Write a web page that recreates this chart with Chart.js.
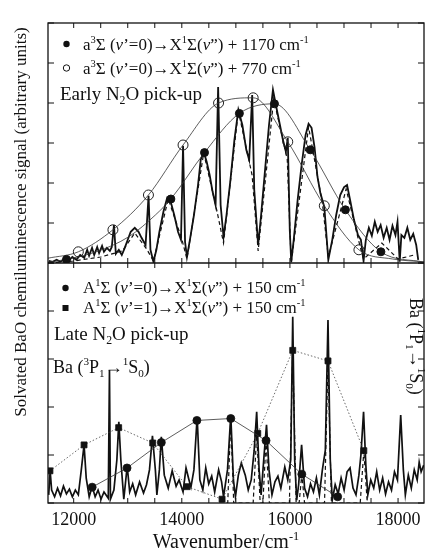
<!DOCTYPE html>
<html>
<head>
<meta charset="utf-8">
<script src="https://cdn.jsdelivr.net/npm/chart.js@4.4.0/dist/chart.umd.min.js"></script>
<style>
  html, body { margin: 0; padding: 0; background: #fff; }
  #wrap { position: relative; width: 430px; height: 551px; }
</style>
</head>
<body>
<div id="wrap"><canvas id="c" width="430" height="551"></canvas></div>
<script>
// === AXES ===
const X_MIN = 11525, X_MAX = 18480;
const xMajorTicks = [12000, 14000, 16000, 18000];
const xTickStep = 500;
const upperYTicks = [0, 1, 2, 3, 4, 5, 6];
const lowerYTicks = [0, 1, 2, 3, 4, 5];

// === EARLY N2O PICK-UP (upper panel) ===
const earlyWn = [11540,11610,11685,11755,11830,11905,11975,12050,12120,12195,
  12250,12285,12340,12380,12435,12470,12525,12560,12615,12670,
  12705,12745,12780,12835,12890,12945,13000,13055,13130,13200,
  13255,13330,13385,13420,13475,13530,13585,13660,13730,13785,
  13860,13930,13985,14023,14060,14095,14150,14225,14300,14350,
  14405,14460,14515,14570,14625,14672,14718,14772,14827,14900,
  14973,15046,15120,15193,15247,15302,15340,15412,15467,15540,
  15613,15686,15740,15815,15870,15925,15960,15997,16024,16070,
  16143,16216,16290,16345,16400,16455,16510,16563,16636,16710,
  16783,16856,16930,17002,17057,17112,17185,17258,17313,17362,
  17404,17460,17515,17570,17623,17678,17733,17790,17843,17897,
  17952,17990,18031,18062,18117,18172,18226,18281,18336,18373];
const earlySig = [0.05,0.03,0.08,0.03,0.1,0.05,0.15,0.08,0.2,0.13,
  0.33,0.18,0.38,0.2,0.4,0.25,0.43,0.28,0.38,0.3,
  0.4,0.95,0.23,0.33,0.2,0.38,0.58,0.78,0.88,0.78,
  0.63,0.45,1.68,0.33,0.03,0.33,0.78,1.28,1.63,1.58,
  1.2,0.78,0.58,2.93,0.53,0.15,0.58,1.2,1.95,2.58,
  2.78,2.53,2.2,1.78,1.45,4.4,1.45,0.65,1.2,2.08,
  3.08,3.83,3.45,2.83,2.58,4.2,1.83,0.45,1.2,2.33,
  3.45,4.33,3.95,3.45,3.08,2.78,3.13,0.83,0.03,0.58,
  1.58,2.45,3.2,3.48,3.38,2.9,2.15,1.75,1.4,0.08,
  0.58,1.2,1.7,1.9,1.95,1.58,1.08,0.7,0.58,0.05,
  0.58,0.88,0.68,1.03,0.78,0.95,0.63,0.88,0.58,0.93,
  0.7,1.03,0.03,0.7,0.63,0.88,0.58,0.73,0.45,0.08];

// simulated spectrum (dashed)
const earlySimWn = [11540,12000,12500,12900,13130,13350,13475,13750,14000,14095,14405,14650,14772,15046,15300,15412,15700,15950,16024,16345,16600,16710,17040,17300,17362,17700,18000,18300];
const earlySimSig = [0.0,0.05,0.15,0.3,0.75,0.35,0.05,1.6,0.6,0.1,2.75,1.3,0.5,3.8,2.2,0.3,4.1,2.6,0.0,3.4,1.5,0.15,1.85,0.4,0.1,0.5,0.1,0.2];

// a3Σ + 1170 cm-1 (filled circles)
const early1170Wn = [11867,13798,14420,15065,15714,16375,17026,17683];
const early1170Sig = [0.09,1.6,2.76,3.74,3.98,2.83,1.33,0.28];
const early1170FitWn = [11525,11867,12415,13023,13511,13798,14420,15065,15714,16375,17026,17683,18480];
const early1170FitSig = [0.02,0.09,0.28,0.66,1.2,1.6,2.76,3.74,3.98,2.83,1.33,0.28,0.02];

// a3Σ + 770 cm-1 (open circles)
const early770Wn = [12086,12726,13383,14023,14680,15320,15960,16636,17276];
const early770Sig = [0.28,0.83,1.7,2.95,4.0,4.13,3.03,1.43,0.33];
const early770FitWn = [11525,12086,12726,13383,14023,14680,15320,15960,16636,17276,17900,18480];
const early770FitSig = [0.12,0.28,0.83,1.7,2.95,4.0,4.13,3.03,1.43,0.33,0.1,0.03];

// === LATE N2O PICK-UP (lower panel) ===
const lateWn = [11538,11565,11592,11647,11702,11757,11811,11866,11921,11976,
  12031,12086,12141,12192,12232,12287,12342,12397,12451,12506,
  12561,12640,12662,12680,12744,12799,12835,12872,12927,12990,
  13036,13091,13146,13219,13292,13347,13402,13457,13511,13539,
  13585,13621,13676,13749,13822,13895,13950,14023,14078,14133,
  14169,14224,14284,14334,14389,14443,14498,14553,14608,14681,
  14736,14772,14845,14906,14955,14992,15046,15101,15174,15229,
  15284,15339,15385,15430,15467,15522,15567,15613,15668,15723,
  15778,15832,15905,15960,16015,16052,16088,16125,16161,16216,
  16271,16326,16381,16435,16490,16545,16600,16655,16704,16746,
  16783,16837,16892,16947,17002,17057,17112,17167,17222,17276,
  17313,17362,17404,17441,17495,17550,17605,17660,17715,17769,
  17824,17879,17934,17989,18049,18098,18135,18190,18245,18300,
  18354,18391,18427,18475];
const lateSig = [0.17,0.67,0.27,0.13,0.31,0.15,0.35,0.19,0.29,0.13,
  0.27,0.17,0.69,1.21,0.52,0.13,0.35,0.13,0.27,0.08,
  0.23,0.1,2.77,0.08,0.27,0.9,1.69,0.9,0.08,0.77,
  0.23,0.4,0.17,0.44,0.21,0.38,0.69,1.4,0.69,0.17,
  0.69,1.38,0.58,0.31,0.67,0.35,0.48,0.23,0.73,0.48,
  0.33,0.69,1.79,0.48,0.27,0.73,0.4,0.56,0.23,0.69,
  0.44,0.13,0.69,1.83,0.48,0.13,0.58,0.83,0.58,0.27,
  0.48,1.1,1.9,0.69,0.17,1.0,1.63,0.69,0.17,0.44,
  0.56,0.31,0.75,0.48,0.9,3.88,0.9,0.06,0.38,1.21,
  0.31,0.13,0.4,0.23,0.52,0.17,0.69,1.1,3.81,0.9,
  0.06,0.38,0.19,0.52,0.27,0.65,0.73,0.31,0.17,0.58,
  1.0,1.9,0.79,0.17,0.48,0.31,0.65,0.27,0.52,0.19,
  0.44,0.27,0.65,0.48,1.83,0.69,0.17,0.58,0.31,0.69,
  0.48,0.85,0.65,0.79];

const lateSimWn = [14700,14850,14906,14960,15320,15385,15450,15500,15558,15620,15990,16052,16115,16170,16220,16270,16640,16704,16768,17300,17367,17430];
const lateSimSig = [0,0,1.76,0,0,1.45,0,0,1.3,0,0,3.18,0,0,0.6,0,0,2.96,0,0,1.09,0];

// A1Σ (v'=0) + 150 cm-1 (filled circles)
const late0Wn = [12342,12987,13621,14279,14906,15558,16220,16883];
const late0Sig = [0.33,0.73,1.26,1.72,1.76,1.3,0.6,0.13];
// A1Σ (v'=1) + 150 cm-1 (filled squares)
const late1Wn = [11561,12192,12832,13462,14096,14745,15405,16052,16704,17367];
const late1Sig = [0.67,1.21,1.57,1.25,0.34,0.08,1.45,3.18,2.96,1.09];

const pts = (xs, ys) => xs.map((x, i) => ({ x: x, y: ys[i] }));
const INK = '#111';
const SERIF = '"Liberation Serif", "DejaVu Serif", serif';

// rich text: parts = [[text, style]], style '', 'sup', 'sub', 'i'
function drawRich(ctx, x, y, parts, size) {
  let cx = x;
  parts.forEach(([t, s]) => {
    let fs = size, dy = 0, it = '';
    if (s === 'sup') { fs = size * 0.62; dy = -size * 0.42; }
    if (s === 'sub') { fs = size * 0.62; dy = size * 0.2; }
    if (s === 'i') it = 'italic ';
    ctx.font = it + fs + 'px ' + SERIF;
    ctx.fillText(t, cx, y + dy);
    cx += ctx.measureText(t).width;
  });
  return cx - x;
}
function richWidth(ctx, parts, size) {
  let w = 0;
  parts.forEach(([t, s]) => {
    const fs = (s === 'sup' || s === 'sub') ? size * 0.62 : size;
    ctx.font = (s === 'i' ? 'italic ' : '') + fs + 'px ' + SERIF;
    w += ctx.measureText(t).width;
  });
  return w;
}

const txtUp1 = [['a',''],['3','sup'],['\u03A3 (',''],['\u03BD','i'],['\u2019=0)\u2192X',''],['1','sup'],['\u03A3(',''],['\u03BD','i'],['\u201D) + 1170 cm',''],['-1','sup']];
const txtUp2 = [['a',''],['3','sup'],['\u03A3 (',''],['\u03BD','i'],['\u2019=0)\u2192X',''],['1','sup'],['\u03A3(',''],['\u03BD','i'],['\u201D) + 770 cm',''],['-1','sup']];
const txtUp3 = [['Early N',''],['2','sub'],['O pick-up','']];
const txtLo1 = [['A',''],['1','sup'],['\u03A3 (',''],['\u03BD','i'],['\u2019=0)\u2192X',''],['1','sup'],['\u03A3(',''],['\u03BD','i'],['\u201D) + 150 cm',''],['-1','sup']];
const txtLo2 = [['A',''],['1','sup'],['\u03A3 (',''],['\u03BD','i'],['\u2019=1)\u2192X',''],['1','sup'],['\u03A3(',''],['\u03BD','i'],['\u201D) + 150 cm',''],['-1','sup']];
const txtLo3 = [['Late N',''],['2','sub'],['O pick-up','']];
const txtBa3 = [['Ba (',''],['3','sup'],['P',''],['1','sub'],['\u2192',''],['1','sup'],['S',''],['0','sub'],[')','']];
const txtBa1 = [['Ba (',''],['1','sup'],['P',''],['1','sub'],['\u2192',''],['1','sup'],['S',''],['0','sub'],[')','']];
const txtXTitle = [['Wavenumber/cm',''],['-1','sup']];

// === FRAME, TICKS & LABELS ===
const framePlugin = {
  id: 'frame',
  afterDatasetsDraw(chart) {
    const { ctx, chartArea: a, scales } = chart;
    const x = scales.x, yU = scales.yUp, yL = scales.yLow;
    const mid = yU.getPixelForValue(0);
    ctx.save();
    ctx.strokeStyle = INK;
    ctx.lineWidth = 1.3;
    ctx.strokeRect(a.left, a.top, a.right - a.left, a.bottom - a.top);
    ctx.beginPath(); ctx.moveTo(a.left, mid); ctx.lineTo(a.right, mid); ctx.stroke();

    ctx.lineWidth = 1;
    ctx.beginPath();
    for (let v = 11500; v <= 18500; v += xTickStep) {
      if (v < x.min || v > x.max) continue;
      const px = x.getPixelForValue(v);
      ctx.moveTo(px, a.top); ctx.lineTo(px, a.top + 5);
      ctx.moveTo(px, mid - 5); ctx.lineTo(px, mid + 5);
      ctx.moveTo(px, a.bottom); ctx.lineTo(px, a.bottom - 5);
    }
    upperYTicks.forEach(v => {
      const py = yU.getPixelForValue(v);
      ctx.moveTo(a.left, py); ctx.lineTo(a.left + 6, py);
      ctx.moveTo(a.right, py); ctx.lineTo(a.right - 6, py);
    });
    lowerYTicks.forEach(v => {
      const py = yL.getPixelForValue(v);
      ctx.moveTo(a.left, py); ctx.lineTo(a.left + 6, py);
      ctx.moveTo(a.right, py); ctx.lineTo(a.right - 6, py);
    });
    ctx.stroke();

    // tick labels
    ctx.fillStyle = INK;
    ctx.font = '18px ' + SERIF;
    ctx.textAlign = 'center';
    ctx.textBaseline = 'alphabetic';
    xMajorTicks.forEach(v => ctx.fillText(String(v), x.getPixelForValue(v), a.bottom + 22));

    ctx.textAlign = 'left';
    // x title
    const tw = richWidth(ctx, txtXTitle, 20);
    drawRich(ctx, (a.left + a.right) / 2 - tw / 2 - 10, 548, txtXTitle, 20);

    // y title
    ctx.save();
    ctx.translate(26, 222);
    ctx.rotate(-Math.PI / 2);
    ctx.font = '17px ' + SERIF;
    ctx.textAlign = 'center';
    ctx.fillText('Solvated BaO chemiluminescence signal (arbitrary units)', 0, 0);
    ctx.restore();

    // legends upper
    ctx.beginPath(); ctx.arc(66.5, 44, 3.2, 0, Math.PI * 2); ctx.fill();
    ctx.beginPath(); ctx.arc(66.5, 68, 3.2, 0, Math.PI * 2); ctx.stroke();
    drawRich(ctx, 83, 50, txtUp1, 17);
    drawRich(ctx, 83, 74, txtUp2, 17);
    drawRich(ctx, 60, 100, txtUp3, 19);

    // legends lower
    ctx.beginPath(); ctx.arc(65.5, 288, 3.2, 0, Math.PI * 2); ctx.fill();
    ctx.fillRect(62.5, 305, 6, 6);
    drawRich(ctx, 83, 293, txtLo1, 17);
    drawRich(ctx, 83, 313, txtLo2, 17);
    drawRich(ctx, 54, 340, txtLo3, 19);
    drawRich(ctx, 53, 373, txtBa3, 18);

    ctx.save();
    ctx.translate(410, 298);
    ctx.rotate(Math.PI / 2);
    drawRich(ctx, 0, 0, txtBa1, 18);
    ctx.restore();

    ctx.restore();
  }
};

const thin = { borderColor: '#333', borderWidth: 0.8, pointRadius: 0, fill: false };

new Chart(document.getElementById('c'), {
  type: 'line',
  data: {
    datasets: [
      // upper
      { data: pts(early1170Wn, early1170Sig), yAxisID: 'yUp', showLine: false, pointRadius: 4, pointBackgroundColor: INK, pointBorderColor: INK, order: 1 },
      { data: pts(early770Wn, early770Sig), yAxisID: 'yUp', showLine: false, pointRadius: 5, pointBackgroundColor: 'rgba(0,0,0,0)', pointBorderColor: '#222', pointBorderWidth: 1, order: 1 },
      { data: pts(early1170FitWn, early1170FitSig), yAxisID: 'yUp', ...thin, cubicInterpolationMode: 'monotone', order: 3 },
      { data: pts(early770FitWn, early770FitSig), yAxisID: 'yUp', ...thin, cubicInterpolationMode: 'monotone', order: 3 },
      { data: pts(earlyWn, earlySig), yAxisID: 'yUp', borderColor: INK, borderWidth: 1.8, pointRadius: 0, order: 5 },
      { data: pts(earlySimWn, earlySimSig), yAxisID: 'yUp', borderColor: INK, borderWidth: 1.2, borderDash: [4, 3], pointRadius: 0, order: 6 },
      // lower
      { data: pts(late0Wn, late0Sig), yAxisID: 'yLow', borderColor: '#333', borderWidth: 0.8, pointStyle: 'circle', pointRadius: 4, pointBackgroundColor: INK, pointBorderColor: INK, order: 1 },
      { data: pts(late1Wn, late1Sig), yAxisID: 'yLow', borderColor: '#444', borderWidth: 0.8, borderDash: [1.5, 2], pointStyle: 'rect', pointRadius: 4.2, pointBackgroundColor: INK, pointBorderColor: INK, order: 1 },
      { data: pts(lateWn, lateSig), yAxisID: 'yLow', borderColor: INK, borderWidth: 1.7, pointRadius: 0, order: 5 },
      { data: pts(lateSimWn, lateSimSig), yAxisID: 'yLow', borderColor: INK, borderWidth: 1.2, borderDash: [4, 3], pointRadius: 0, order: 6 }
    ]
  },
  options: {
    responsive: false,
    animation: false,
    layout: { padding: { left: 48, right: 2, top: 23, bottom: 48 } },
    plugins: { legend: { display: false }, tooltip: { enabled: false } },
    scales: {
      x: { type: 'linear', min: X_MIN, max: X_MAX, display: false },
      yLow: { type: 'linear', position: 'left', stack: 'panels', stackWeight: 1, min: 0, max: 5, display: false },
      yUp: { type: 'linear', position: 'left', stack: 'panels', stackWeight: 1, min: 0, max: 6, display: false }
    }
  },
  plugins: [framePlugin]
});
</script>
</body>
</html>
